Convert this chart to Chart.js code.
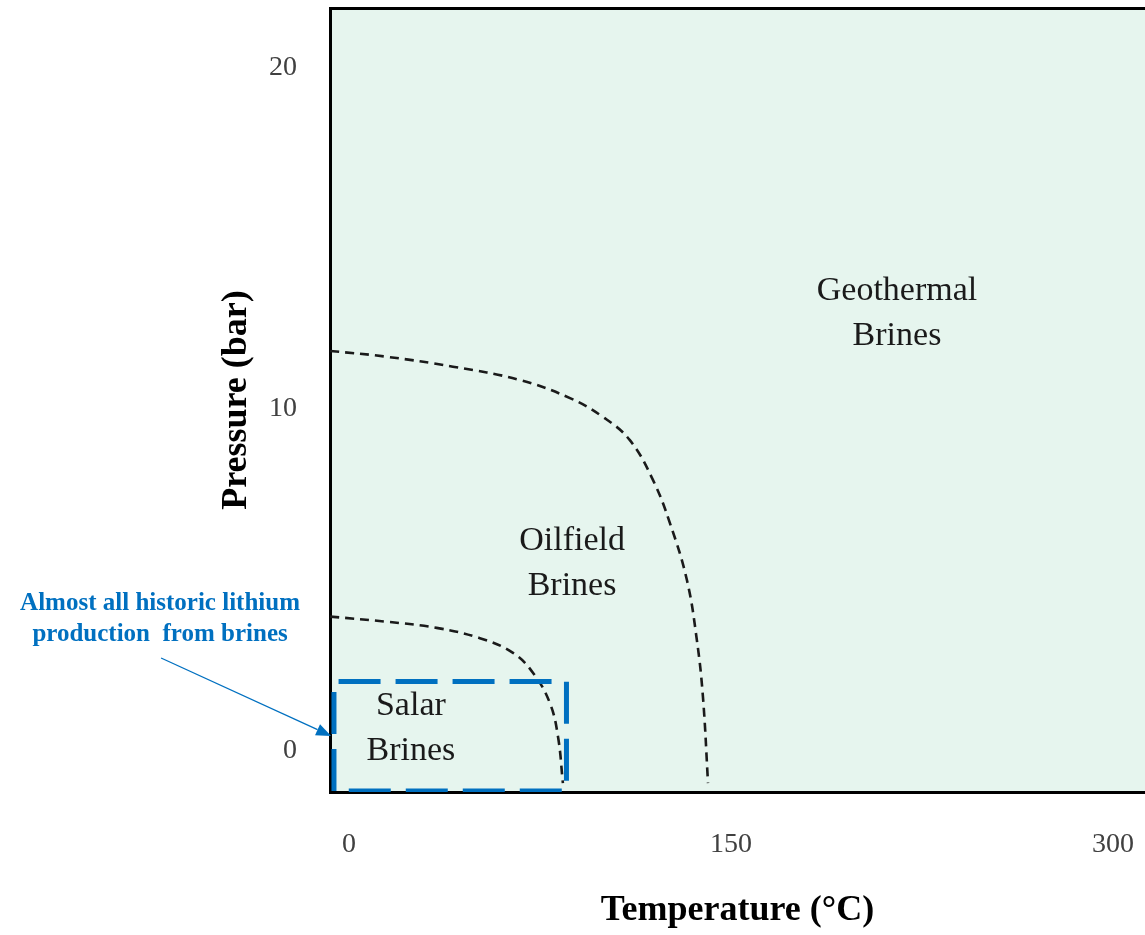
<!DOCTYPE html>
<html>
<head>
<meta charset="utf-8">
<title>Brine types by temperature and pressure</title>
<script src="https://cdn.jsdelivr.net/npm/chart.js@4/dist/chart.umd.min.js"></script>
<style>
    html, body { margin: 0; padding: 0; background: #fff; }
    #wrap { width: 1145px; height: 935px; position: relative; }
</style>
</head>
<body>
<div id="wrap"><canvas id="brineChart"></canvas></div>
<script>
/***************************************************************
 * DATA
 ***************************************************************/
const xTicks = [0, 150, 300];
const yTicks = [0, 10, 20];

// dashed boundary between oilfield and geothermal brines (°C, bar)
const oilfieldBoundary = [
    { x: -7.4, y: 11.70 }, { x: 14.8, y: 11.53 }, { x: 40.8, y: 11.24 },
    { x: 67.1, y: 10.85 }, { x: 86.8, y: 10.32 }, { x: 99.7, y: 9.77 },
    { x: 110.3, y: 9.09 }, { x: 119.4, y: 7.92 }, { x: 126.0, y: 6.67 },
    { x: 132.7, y: 5.00 }, { x: 136.6, y: 3.25 }, { x: 139.0, y: 1.58 },
    { x: 141.0, y: -0.94 }
];

// dashed boundary between salar and oilfield brines
const salarBoundary = [
    { x: -7.4, y: 3.93 }, { x: 14.8, y: 3.78 }, { x: 34.4, y: 3.60 },
    { x: 51.4, y: 3.30 }, { x: 64.4, y: 2.87 }, { x: 72.3, y: 2.28 },
    { x: 78.9, y: 1.40 }, { x: 82.1, y: 0.41 }, { x: 84.0, y: -0.94 }
];

// box around historic lithium production
const historicBox = [
    { x: -5.9, y: -1.17 }, { x: -5.9, y: 2.03 }, { x: 85.4, y: 2.03 },
    { x: 85.4, y: -1.17 }, { x: -5.9, y: -1.17 }
];

const regionNames = [["Geothermal", "Brines"], ["Oilfield", "Brines"], ["Salar", "Brines"]];
const regionAnchors = [[215.2, 13.45], [87.6, 6.14], [24.3, 1.31]];

const noteLines = ["Almost all historic lithium", "production  from brines"];
const noteAnchor = [-74.2, 4.30];
const arrowFrom = [-73.8, 2.72];
const arrowTo = [-7.0, 0.44];

/***************************************************************
 * PLUGINS
 ***************************************************************/
const SERIF = "'Liberation Serif', 'DejaVu Serif', serif";
const BLUE = "#0070c0";

const plotBackground = {
    id: "plotBackground",
    beforeDraw(chart) {
        const { ctx, chartArea: a } = chart;
        ctx.save();
        ctx.fillStyle = "#e6f5ee";
        ctx.fillRect(a.left, a.top, a.right - a.left, a.bottom - a.top);
        ctx.restore();
    }
};

const annotations = {
    id: "annotations",
    afterDraw(chart) {
        const { ctx, scales: { x, y } } = chart;
        ctx.save();
        ctx.textAlign = "center";
        ctx.textBaseline = "middle";

        // region names
        ctx.font = "34px " + SERIF;
        ctx.fillStyle = "#1a1a1a";
        regionNames.forEach((lines, i) => {
            const px = x.getPixelForValue(regionAnchors[i][0]);
            const py = y.getPixelForValue(regionAnchors[i][1]);
            lines.forEach((t, j) => ctx.fillText(t, px, py + j * 45));
        });

        // note text
        ctx.font = "bold 25px " + SERIF;
        ctx.fillStyle = BLUE;
        const nx = x.getPixelForValue(noteAnchor[0]);
        const ny = y.getPixelForValue(noteAnchor[1]);
        noteLines.forEach((t, j) => ctx.fillText(t, nx, ny + j * 31));

        // arrow
        const x0 = x.getPixelForValue(arrowFrom[0]), y0 = y.getPixelForValue(arrowFrom[1]);
        const x1 = x.getPixelForValue(arrowTo[0]), y1 = y.getPixelForValue(arrowTo[1]);
        const ang = Math.atan2(y1 - y0, x1 - x0);
        const len = 15, half = 6;
        const bx = x1 - len * Math.cos(ang), by = y1 - len * Math.sin(ang);
        ctx.strokeStyle = BLUE;
        ctx.lineWidth = 1.3;
        ctx.beginPath();
        ctx.moveTo(x0, y0);
        ctx.lineTo(bx, by);
        ctx.stroke();
        ctx.fillStyle = BLUE;
        ctx.beginPath();
        ctx.moveTo(x1, y1);
        ctx.lineTo(bx + half * Math.sin(ang), by - half * Math.cos(ang));
        ctx.lineTo(bx - half * Math.sin(ang), by + half * Math.cos(ang));
        ctx.closePath();
        ctx.fill();
        ctx.restore();
    }
};

/***************************************************************
 * CHART
 ***************************************************************/
const X_MIN = -7.46, X_MAX = 312.6;
const Y_MIN = -1.2, Y_MAX = 21.73;

// invisible tick marks push the labels away from the axes
// (tick padding would also be added to the layout padding)
const hiddenTicks = len => ({
    display: true,
    drawOnChartArea: false,
    drawTicks: true,
    tickLength: len,
    tickColor: "rgba(0,0,0,0)",
    color: "rgba(0,0,0,0)"
});

new Chart(document.getElementById("brineChart"), {
    type: "scatter",
    data: {
        datasets: [
            {
                label: "Historic production",
                data: historicBox,
                showLine: true,
                borderColor: BLUE,
                borderWidth: 5,
                borderDash: [42, 15],
                pointRadius: 0,
                tension: 0,
                fill: false
            },
            {
                label: "Oilfield limit",
                data: oilfieldBoundary,
                showLine: true,
                borderColor: "#1a1a1a",
                borderWidth: 2.6,
                borderDash: [9, 6],
                pointRadius: 0,
                tension: 0.4,
                fill: false
            },
            {
                label: "Salar limit",
                data: salarBoundary,
                showLine: true,
                borderColor: "#1a1a1a",
                borderWidth: 2.6,
                borderDash: [9, 6],
                pointRadius: 0,
                tension: 0.4,
                fill: false
            }
        ]
    },
    options: {
        responsive: true,
        maintainAspectRatio: false,
        animation: false,
        layout: { padding: 0 },
        plugins: {
            legend: { display: false },
            tooltip: { enabled: false }
        },
        scales: {
            x: {
                type: "linear",
                position: "bottom",
                min: X_MIN,
                max: X_MAX,
                afterBuildTicks: s => { s.ticks = xTicks.map(v => ({ value: v })); },
                afterFit: s => { s.height = 143; s.paddingLeft = 0; s.paddingRight = 0; },
                grid: hiddenTicks(36),
                border: { display: true, color: "#000", width: 3 },
                ticks: {
                    color: "#404040",
                    font: { family: SERIF, size: 28 },
                    padding: 0,
                    maxRotation: 0,
                    autoSkip: false
                },
                title: {
                    display: true,
                    text: "Temperature (°C)",
                    color: "#000",
                    font: { family: SERIF, size: 36, weight: "bold" },
                    padding: { top: 0, bottom: 3 }
                }
            },
            xTop: {
                type: "linear",
                axis: "x",
                position: "top",
                min: X_MIN,
                max: X_MAX,
                afterFit: s => { s.height = 8; s.paddingLeft = 0; s.paddingRight = 0; },
                grid: { display: false, drawTicks: false },
                border: { display: true, color: "#000", width: 3 },
                ticks: { display: false }
            },
            y: {
                type: "linear",
                position: "left",
                min: Y_MIN,
                max: Y_MAX,
                afterBuildTicks: s => { s.ticks = yTicks.map(v => ({ value: v })); },
                afterFit: s => { s.width = 330; s.paddingTop = 0; s.paddingBottom = 0; },
                grid: hiddenTicks(33),
                border: { display: true, color: "#000", width: 3 },
                ticks: {
                    color: "#404040",
                    font: { family: SERIF, size: 28 },
                    padding: 0
                },
                title: {
                    display: true,
                    text: "Pressure (bar)",
                    color: "#000",
                    font: { family: SERIF, size: 36, weight: "bold" },
                    padding: { top: 215, bottom: 0 }
                }
            }
        }
    },
    plugins: [plotBackground, annotations]
});
</script>
</body>
</html>
